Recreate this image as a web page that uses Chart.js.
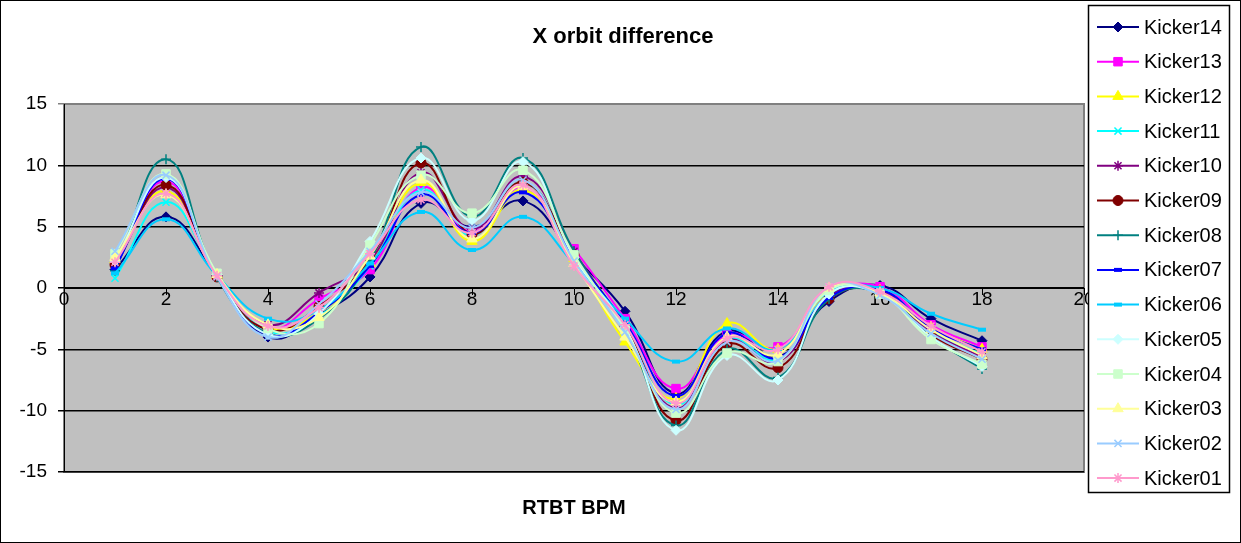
<!DOCTYPE html>
<html lang="en">
<head>
    <meta charset="UTF-8">
    <title>X orbit difference</title>
    <script src="https://cdn.jsdelivr.net/npm/chart.js"></script>
    <style>
        body { margin: 0; background: #fff; }
        canvas { display: block; }
    </style>
</head>
<body>
    <canvas id="orbitChart" width="1241" height="543"></canvas>

    <script>
        // BPM index along the RTBT line
        const bpm = [1, 2, 3, 4, 5, 6, 7, 8, 9, 10, 11, 12, 13, 14, 15, 16, 17, 18];

        const kickerNames = ['Kicker14', 'Kicker13', 'Kicker12', 'Kicker11', 'Kicker10', 'Kicker09', 'Kicker08',
                             'Kicker07', 'Kicker06', 'Kicker05', 'Kicker04', 'Kicker03', 'Kicker02', 'Kicker01'];

        const kicker14 = [1.5, 5.8, 1.0, -4.0, -2.2, 0.9, 6.9, 5.0, 7.1, 2.6, -1.9, -8.6, -3.5, -5.6, -1.1, 0.2, -2.5, -4.3];
        const kicker13 = [2.0, 8.7, 1.0, -3.3, -0.9, 1.5, 8.2, 4.6, 8.2, 3.2, -2.5, -8.2, -3.8, -4.8, -0.5, 0.1, -3.0, -4.8];
        const kicker12 = [2.3, 7.9, 1.0, -3.2, -2.0, 2.0, 8.6, 3.8, 8.0, 2.4, -4.4, -9.0, -2.9, -5.0, -0.4, -0.2, -3.2, -5.0];
        const kicker11 = [0.8, 7.0, 1.1, -3.5, -2.3, 1.8, 8.0, 4.3, 8.6, 2.8, -3.0, -9.5, -4.2, -5.8, -0.6, -0.3, -3.5, -5.4];
        const kicker10 = [1.8, 8.2, 1.0, -3.0, -0.4, 2.2, 9.4, 4.8, 9.1, 3.0, -3.3, -9.8, -4.3, -6.0, -0.7, -0.2, -3.6, -5.6];
        const kicker09 = [1.9, 8.4, 0.9, -3.4, -1.5, 2.4, 10.2, 4.4, 8.6, 2.7, -3.1, -10.8, -4.6, -6.5, -0.9, -0.3, -3.8, -5.8];
        const kicker08 = [1.4, 10.5, 0.9, -3.7, -2.5, 2.3, 11.5, 5.8, 10.6, 3.0, -3.4, -11.2, -5.0, -7.3, -0.9, -0.4, -4.0, -6.6];
        const kicker07 = [1.6, 8.9, 1.0, -3.8, -2.0, 1.8, 7.6, 4.5, 7.8, 2.5, -2.8, -8.8, -3.7, -5.7, -0.8, -0.1, -3.3, -5.0];
        const kicker06 = [1.2, 5.6, 1.0, -2.5, -1.8, 2.0, 6.2, 3.1, 5.8, 2.0, -2.5, -6.0, -3.3, -5.0, -0.3, 0.0, -2.1, -3.4];
        const kicker05 = [2.2, 9.0, 1.1, -3.8, -2.1, 3.8, 10.6, 5.5, 10.3, 2.5, -3.2, -11.6, -5.5, -7.5, -0.5, -0.5, -4.0, -6.4];
        const kicker04 = [2.8, 9.3, 1.2, -3.3, -2.9, 3.5, 9.2, 6.1, 9.6, 2.7, -3.4, -10.2, -5.3, -6.0, -0.2, -0.5, -4.2, -6.2];
        const kicker03 = [2.5, 7.6, 1.1, -3.0, -2.4, 2.6, 8.8, 4.0, 8.3, 2.0, -4.0, -9.3, -4.0, -5.4, 0.0, -0.4, -3.4, -5.5];
        const kicker02 = [3.0, 9.2, 0.9, -4.0, -1.3, 3.0, 7.8, 4.9, 8.8, 2.2, -3.6, -9.9, -4.4, -5.9, 0.1, -0.6, -3.7, -5.8];
        const kicker01 = [2.1, 7.7, 1.0, -3.1, -1.6, 2.8, 7.2, 4.5, 8.4, 1.8, -3.0, -9.4, -4.1, -5.0, 0.1, -0.3, -3.1, -5.2];

        const xTicks = [0, 2, 4, 6, 8, 10, 12, 14, 16, 18, 20];
        const yTicks = [-15, -10, -5, 0, 5, 10, 15];

        const seriesValues = [kicker14, kicker13, kicker12, kicker11, kicker10, kicker09, kicker08,
                              kicker07, kicker06, kicker05, kicker04, kicker03, kicker02, kicker01];

        // excel-ish default series colours and markers
        const colors = ['#000080', '#FF00FF', '#FFFF00', '#00FFFF', '#800080', '#800000', '#008080',
                        '#0000FF', '#00CCFF', '#CCFFFF', '#CCFFCC', '#FFFF99', '#99CCFF', '#FF99CC'];
        const markers = ['rectRot', 'rect', 'triangle', 'crossRot', 'star', 'circle', 'cross',
                         'line', 'line', 'rectRot', 'rect', 'triangle', 'crossRot', 'star'];

        const FONT = '"Liberation Sans", Arial, sans-serif';

        function markerRadius(style) {
            if (style === 'rect') return 6;
            if (style === 'triangle') return 6;
            if (style === 'line') return 4;
            return 5;
        }
        function markerBorder(style) {
            if (style === 'line') return 4;
            if (style === 'cross' || style === 'crossRot' || style === 'star') return 1.5;
            return 1;
        }

        const datasets = kickerNames.map((name, i) => ({
            label: name,
            data: seriesValues[i].map((v, j) => ({ x: bpm[j], y: v })),
            borderColor: colors[i],
            backgroundColor: colors[i],
            borderWidth: 2,
            tension: 0.45,
            pointStyle: markers[i],
            pointRadius: markerRadius(markers[i]),
            pointBorderWidth: markerBorder(markers[i]),
            pointBackgroundColor: colors[i],
            pointBorderColor: colors[i],
            order: kickerNames.length - 1 - i
        }));

        // gray plot area + frame
        const backdrop = {
            id: 'backdrop',
            beforeDraw(chart) {
                const { ctx, chartArea: a } = chart;
                ctx.save();
                ctx.fillStyle = '#fff';
                ctx.fillRect(0, 0, chart.width, chart.height);
                ctx.fillStyle = '#C0C0C0';
                ctx.fillRect(a.left, a.top, a.right - a.left, a.bottom - a.top);
                ctx.strokeStyle = '#808080';
                ctx.lineWidth = 2;
                ctx.strokeRect(a.left, a.top, a.right - a.left, a.bottom - a.top);
                ctx.strokeStyle = '#000';
                ctx.lineWidth = 1;
                ctx.strokeRect(0.5, 0.5, chart.width - 1, chart.height - 1);
                ctx.restore();
            }
        };

        // titles and legend drawn like the spreadsheet original
        const decorations = {
            id: 'decorations',
            afterDraw(chart) {
                const { ctx, chartArea: a } = chart;
                const cx = (a.left + a.right) / 2;
                ctx.save();
                ctx.fillStyle = '#000';
                ctx.textAlign = 'center';
                ctx.textBaseline = 'middle';
                ctx.font = 'bold 22px ' + FONT;
                ctx.fillText('X orbit difference', 623, 37);
                ctx.font = 'bold 20px ' + FONT;
                ctx.fillText('RTBT BPM', cx, 508);

                // legend
                ctx.fillStyle = '#fff';
                ctx.fillRect(1088, 5, 141, 487);
                ctx.strokeStyle = '#000';
                ctx.lineWidth = 1.5;
                ctx.strokeRect(1088.5, 5.5, 141, 487);
                ctx.font = '20px ' + FONT;
                ctx.textAlign = 'left';
                chart.data.datasets.forEach((ds, i) => {
                    const y = 27 + i * 34.7;
                    ctx.strokeStyle = ds.borderColor;
                    ctx.lineWidth = 2;
                    ctx.beginPath();
                    ctx.moveTo(1097, y);
                    ctx.lineTo(1139, y);
                    ctx.stroke();
                    ctx.fillStyle = ds.borderColor;
                    ctx.strokeStyle = ds.borderColor;
                    ctx.lineWidth = ds.pointBorderWidth;
                    Chart.helpers.drawPoint(ctx, {
                        pointStyle: ds.pointStyle,
                        radius: ds.pointRadius,
                        borderWidth: ds.pointBorderWidth,
                        rotation: 0
                    }, 1118, y);
                    ctx.fillStyle = '#000';
                    ctx.fillText(ds.label, 1144, y + 1);
                });
                ctx.restore();
            }
        };

        const ctx = document.getElementById('orbitChart').getContext('2d');
        window.myChart = new Chart(ctx, {
            type: 'line',
            data: { datasets: datasets },
            plugins: [backdrop, decorations],
            options: {
                responsive: false,
                animation: false,
                layout: { padding: { left: 0, top: 104, right: 157, bottom: 71 } },
                plugins: {
                    legend: { display: false },
                    title: { display: false },
                    tooltip: { enabled: false }
                },
                scales: {
                    x: {
                        type: 'linear',
                        position: { y: 0 },
                        min: 0,
                        max: 20,
                        afterFit: s => { s.height = 0; },
                        afterBuildTicks: s => { s.ticks = xTicks.map(v => ({ value: v })); },
                        border: { display: true, color: '#000', width: 1 },
                        grid: { drawOnChartArea: false, drawTicks: true, tickLength: 6, color: '#000' },
                        ticks: { color: '#000', padding: -6, maxRotation: 0, font: { family: FONT, size: 19 } }
                    },
                    y: {
                        min: -15,
                        max: 15,
                        afterFit: s => { s.width = 64; },
                        afterBuildTicks: s => { s.ticks = yTicks.map(v => ({ value: v })); },
                        border: { display: true, color: '#000', width: 1 },
                        grid: {
                            color: c => (c.tick && c.tick.value === 15 ? '#808080' : '#000'),
                            lineWidth: 1.5,
                            tickLength: 6
                        },
                        ticks: { color: '#000', padding: 11, font: { family: FONT, size: 19 } }
                    }
                }
            }
        });
    </script>
</body>
</html>
